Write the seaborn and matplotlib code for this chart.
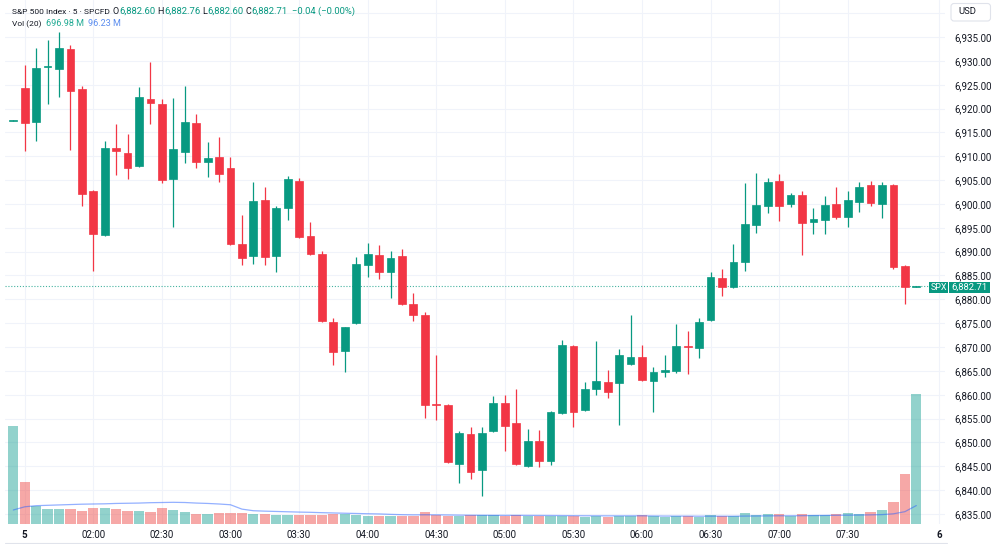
import numpy as np
import pandas as pd
import matplotlib
matplotlib.use("Agg")
import matplotlib.pyplot as plt
import seaborn as sns
from matplotlib.patches import Rectangle, FancyBboxPatch
from matplotlib.lines import Line2D

# 5-minute candles
opens = [6917.4, 6924.4, 6917.1, 6928.8, 6928.3, 6932.5, 6924.0, 6902.7, 6893.4, 6911.7,
         6910.6, 6907.9, 6922.1, 6921.0, 6905.2, 6910.8, 6917.0, 6908.7, 6909.8, 6907.5,
         6891.7, 6889.1, 6900.8, 6889.1, 6899.2, 6904.8, 6893.2, 6889.6, 6875.3, 6869.1,
         6875.1, 6887.3, 6889.2, 6885.7, 6889.0, 6879.0, 6876.7, 6858.1, 6857.8, 6845.4,
         6851.8, 6844.2, 6852.4, 6858.3, 6854.0, 6845.1, 6850.2, 6846.2, 6856.2, 6870.2,
         6856.9, 6861.2, 6862.6, 6862.4, 6866.4, 6868.0, 6862.9, 6864.8, 6865.0, 6870.2,
         6869.7, 6875.7, 6884.5, 6882.5, 6887.8, 6895.5, 6899.6, 6904.9, 6899.9, 6901.9,
         6896.3, 6896.6, 6900.0, 6897.3, 6900.4, 6903.9, 6899.9, 6904.0, 6886.9, 6882.60]
highs = [6917.7, 6929.1, 6932.6, 6934.4, 6936.0, 6933.3, 6924.8, 6902.9, 6913.2, 6916.8,
         6914.6, 6924.5, 6929.8, 6921.9, 6922.3, 6924.7, 6918.9, 6912.9, 6914.1, 6909.9,
         6897.7, 6904.7, 6903.6, 6899.6, 6905.9, 6905.4, 6896.2, 6890.2, 6876.0, 6874.3,
         6888.8, 6891.9, 6891.4, 6890.1, 6890.5, 6881.3, 6877.3, 6868.3, 6858.0, 6852.4,
         6853.3, 6853.3, 6859.7, 6859.9, 6861.1, 6852.8, 6852.6, 6856.5, 6871.5, 6870.5,
         6862.7, 6871.2, 6865.1, 6869.5, 6876.7, 6870.4, 6865.9, 6868.3, 6874.8, 6873.4,
         6876.0, 6885.8, 6886.3, 6891.6, 6904.3, 6906.4, 6905.4, 6906.3, 6902.2, 6902.8,
         6899.1, 6901.7, 6903.5, 6902.7, 6904.5, 6904.8, 6904.6, 6904.2, 6887.1, 6882.76]
lows = [6917.3, 6911.0, 6913.1, 6920.9, 6922.5, 6911.3, 6899.6, 6886.0, 6893.2, 6906.1,
        6905.2, 6907.7, 6916.8, 6904.3, 6895.2, 6908.5, 6907.6, 6905.6, 6904.5, 6891.3,
        6887.1, 6887.4, 6887.3, 6885.8, 6896.6, 6892.9, 6889.3, 6875.3, 6866.2, 6864.8,
        6874.9, 6884.7, 6884.3, 6880.2, 6878.8, 6875.5, 6855.1, 6854.6, 6845.6, 6841.6,
        6842.3, 6838.8, 6852.2, 6848.3, 6845.2, 6844.9, 6844.9, 6845.3, 6856.0, 6853.2,
        6856.5, 6860.0, 6859.3, 6853.7, 6866.2, 6862.8, 6856.4, 6863.8, 6864.6, 6864.3,
        6867.8, 6875.5, 6880.7, 6882.3, 6886.0, 6893.9, 6898.2, 6896.5, 6899.4, 6889.4,
        6893.6, 6893.6, 6896.8, 6895.2, 6898.4, 6899.6, 6897.0, 6886.3, 6879.0, 6882.60]
closes = [6917.6, 6916.9, 6928.6, 6929.0, 6932.8, 6923.7, 6902.1, 6893.7, 6911.8, 6911.1,
          6907.6, 6922.5, 6921.1, 6905.0, 6911.5, 6917.2, 6908.7, 6909.7, 6906.3, 6891.5,
          6888.6, 6900.6, 6888.8, 6899.1, 6905.3, 6893.1, 6889.6, 6875.5, 6869.0, 6874.1,
          6887.5, 6889.5, 6885.7, 6888.7, 6879.0, 6876.8, 6857.8, 6857.9, 6845.8, 6851.9,
          6843.9, 6851.9, 6858.2, 6853.5, 6845.4, 6850.4, 6846.2, 6856.3, 6870.4, 6856.3,
          6861.1, 6862.9, 6860.5, 6868.4, 6867.9, 6863.0, 6864.8, 6865.2, 6870.2, 6870.0,
          6875.3, 6884.7, 6882.6, 6887.8, 6895.7, 6899.7, 6904.7, 6899.6, 6901.9, 6896.0,
          6896.9, 6899.8, 6897.3, 6900.8, 6903.6, 6900.1, 6904.0, 6886.7, 6882.6, 6882.71]

# volume in millions
volumes = [522, 223, 98, 80, 80, 80, 70, 84, 84, 82, 72, 72, 62, 87, 77, 62, 53, 53, 57, 60,
           57, 51, 53, 46, 46, 46, 46, 46, 53, 53, 46, 43, 41, 43, 41, 43, 62, 48, 43, 43,
           46, 46, 46, 44, 46, 41, 41, 41, 44, 44, 35, 41, 35, 44, 44, 46, 44, 35, 41, 41,
           35, 50, 43, 44, 59, 50, 53, 53, 44, 53, 50, 50, 53, 60, 55, 64, 73, 119, 269, 697]
# Vol(20) average before 20 bars are on screen
vol_ma_head = [75, 92, 98, 100, 102, 104, 106, 107, 108, 110, 111, 112, 114, 115, 116, 115,
               112, 110, 107]

time_ticks = [1, 7, 13, 19, 25, 31, 37, 43, 49, 55, 61, 67, 73, 81]
time_labels = ["5", "02:00", "02:30", "03:00", "03:30", "04:00", "04:30", "05:00",
               "05:30", "06:00", "06:30", "07:00", "07:30", "6"]
price_ticks = [6835, 6840, 6845, 6850, 6855, 6860, 6865, 6870, 6875, 6880, 6885, 6890,
               6895, 6900, 6905, 6910, 6915, 6920, 6925, 6930, 6935, 6940]
last_price = 6882.71

UP = "#089981"
DOWN = "#F23645"
TEXT = "#131722"
GRID = "#F0F3FA"

df = pd.DataFrame({"o": opens, "h": highs, "l": lows, "c": closes, "vol": volumes})
df["i"] = np.arange(len(df))
df["dir"] = np.where(df["c"] >= df["o"], "up", "down")
ma = df["vol"].rolling(20).mean()
ma.iloc[:len(vol_ma_head)] = vol_ma_head
df["ma"] = ma

sns.set_theme(style="white")
plt.rcParams["font.family"] = ["Roboto", "DejaVu Sans"]

W, H = 1000, 544
fig = plt.figure(figsize=(W / 100, H / 100), dpi=100)
fig.patch.set_facecolor("white")

def px(x, y):
    return x / 100, (H - y) / 100

rect = [5 / W, (H - 524) / H, 940 / W, 524 / H]
ax = fig.add_axes(rect)
ax.set_facecolor("white")

cols = np.where(df["dir"] == "up", UP, DOWN)
ax.vlines(df["i"], df["l"], df["h"], colors=cols, lw=0.9, zorder=2)
body = np.maximum((df["c"] - df["o"]).abs(), 0.22)
ax.bar(df["i"], body, bottom=np.minimum(df["o"], df["c"]), width=0.68,
       color=cols, edgecolor=cols, linewidth=0.5, zorder=3)

ax.axhline(last_price, color=UP, lw=0.8, ls=(0, (1, 1.6)), alpha=0.75, zorder=1)

ax.set_xlim(-0.726, 81.51)
ax.set_ylim(6832.9, 6942.76)
ax.set_xticks(time_ticks)
ax.set_xticklabels(time_labels)
ax.set_yticks(price_ticks)
ax.set_yticklabels([f"{p:,.2f}" if p < 6940 else "" for p in price_ticks])
ax.yaxis.tick_right()
ax.grid(True, color=GRID, lw=0.8)
ax.tick_params(axis="y", length=0, pad=7, labelsize=7, labelcolor=TEXT)
ax.tick_params(axis="x", length=0, pad=4, labelsize=7, labelcolor=TEXT)
for lab in ax.get_xticklabels():
    if lab.get_text() in ("5", "6"):
        lab.set_fontweight("bold")
for s in ax.spines.values():
    s.set_visible(False)

# volume pane on top of the grid
axv = fig.add_axes(rect, sharex=ax)
axv.set_facecolor("none")
sns.barplot(data=df, x="i", y="vol", hue="dir", palette={"up": "#26A69A", "down": "#EF5350"},
            native_scale=True, width=0.9, dodge=False, saturation=1, alpha=0.5,
            errorbar=None, linewidth=0, legend=False, ax=axv)
sns.lineplot(data=df, x="i", y="ma", color="#2962FF", lw=0.9, alpha=0.5, ax=axv)
axv.set_ylim(0, 524 * 5.35)
axv.set_xlim(-0.726, 81.51)
axv.axis("off")

# header legend, pieces laid out left to right
renderer = fig.canvas.get_renderer()

def put_row(x, y, parts):
    for s, color, size, gap in parts:
        t = fig.text(x / W, 1 - y / H, s, color=color, fontsize=size, va="center", ha="left")
        x += t.get_window_extent(renderer=renderer).width + gap

put_row(12, 11.5, [("S&P 500 Index · 5 · SPCFD", TEXT, 6.0, 3),
                   ("O", TEXT, 6.5, 0.3), ("6,882.60", UP, 6.8, 2),
                   ("H", TEXT, 6.5, 0.3), ("6,882.76", UP, 6.8, 2),
                   ("L", TEXT, 6.5, 0.3), ("6,882.60", UP, 6.8, 2),
                   ("C", TEXT, 6.5, 0.3), ("6,882.71", UP, 6.8, 4),
                   ("−0.04 (−0.00%)", UP, 6.8, 0)])
put_row(12, 24, [("Vol (20)", TEXT, 6.0, 4), ("696.98 M", "#22AB94", 6.5, 4),
                 ("96.23 M", "#5B8DEF", 6.5, 0)])

# USD box
usd = FancyBboxPatch(px(951, 21), 0.395, 0.175, boxstyle="round,pad=0,rounding_size=0.03",
                     transform=fig.dpi_scale_trans, facecolor="white", edgecolor="#E0E3EB", lw=0.8)
fig.add_artist(usd)
fig.text(958 / W, 1 - 12 / H, "USD", color=TEXT, fontsize=6.8, va="center", ha="left")

# last price tag
fig.add_artist(Rectangle(px(929, 292.7), 0.19, 0.11, transform=fig.dpi_scale_trans,
                         facecolor=UP, edgecolor="none"))
fig.add_artist(Rectangle(px(949, 292.7), 0.41, 0.11, transform=fig.dpi_scale_trans,
                         facecolor=UP, edgecolor="none"))
fig.text(938.5 / W, 1 - 287.2 / H, "SPX", color="white", fontsize=6.5, ha="center", va="center")
fig.text(969.5 / W, 1 - 287.2 / H, f"{last_price:,.2f}", color="white", fontsize=6.8,
         ha="center", va="center")

fig.add_artist(Line2D([5 / W, 947 / W], [1 - 543 / H] * 2, color="#E0E3EB", lw=0.8))

fig.savefig("out.png", dpi=100, facecolor="white")
